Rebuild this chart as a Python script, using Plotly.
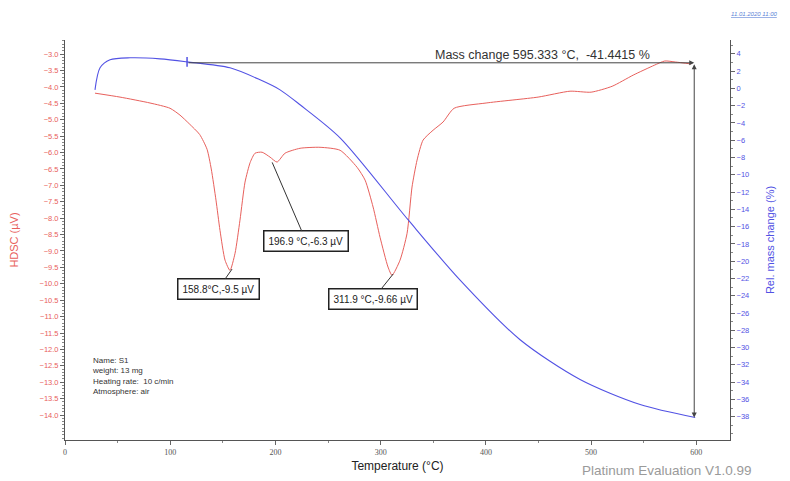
import plotly.graph_objects as go

# ---- data ----
dsc_temp = [28.5, 52.3, 80.8, 99.8, 109.3, 118, 128, 135, 139, 143.5, 147.3, 152.1, 156.8, 161.6,
            166.3, 171.1, 176, 180.6, 187.3, 194.9, 201.5, 209.1, 223.4, 242.4, 261.4, 277.6,
            285.2, 292.8, 299.4, 307, 310.8, 318.4, 325.1, 329.8, 334.6, 340.3, 349.8, 359.3,
            369.8, 400.2, 449.6, 480, 500, 520, 540, 560, 570, 580, 595]
dsc_val = [-4.19, -4.31, -4.49, -4.65, -4.86, -5.12, -5.45, -5.9, -6.5, -7.45, -8.37, -9.28, -9.59, -9.07,
           -8.06, -6.9, -6.3, -6.02, -5.99, -6.14, -6.29, -6.02, -5.87, -5.84, -5.93, -6.45,
           -6.84, -7.66, -8.58, -9.49, -9.74, -9.28, -8.46, -7.05, -6.23, -5.62, -5.32, -5.07,
           -4.65, -4.49, -4.31, -4.13, -4.16, -3.98, -3.64, -3.34, -3.21, -3.24, -3.30]

tg_temp = [28.5, 33.3, 42.8, 61.8, 90.3, 116, 156.8, 185.4, 204.4, 223.4, 261.4, 326, 375.5,
           432.5, 489.5, 546.6, 598.9]
tg_val = [-0.17, 2.38, 3.31, 3.54, 3.42, 3.07, 2.38, 0.99, -0.17, -1.9, -5.72, -15.2, -22.2,
          -29.1, -33.7, -36.6, -38.1]

peak_temp = [158.8, 196.9, 311.9]
peak_val = [-9.55, -6.3, -9.7]
peak_labels = ["158.8°C,-9.5 µV", "196.9 °C,-6.3 µV", "311.9 °C,-9.66 µV"]
peak_offsets = [(-14, 20), (34, 79), (-20, 25)]

mass_start_T = 116
mass_end_T = 598
mass_top = 2.96
mass_bottom = -38.1
mass_text = "Mass change 595.333 °C,  -41.4415 %"

info_lines = ["Name: S1", "weight: 13 mg", "Heating rate:  10 c/min", "Atmosphere: air"]

x_ticks = [0, 100, 200, 300, 400, 500, 600]
left_ticks = [-3.0 - 0.5 * i for i in range(23)]
right_ticks = [4 - 2 * i for i in range(22)]

RED = "#e8605c"
BLUE = "#5252e4"
FONT = "Liberation Sans, Arial, sans-serif"

fig = go.Figure()
fig.add_trace(go.Scatter(x=dsc_temp, y=dsc_val, mode="lines", line=dict(color=RED, width=1, shape="spline", smoothing=0.6),
                         yaxis="y", hoverinfo="skip", showlegend=False))
fig.add_trace(go.Scatter(x=tg_temp, y=tg_val, mode="lines", line=dict(color=BLUE, width=1.1, shape="spline", smoothing=0.8),
                         yaxis="y2", hoverinfo="skip", showlegend=False))
fig.add_trace(go.Scatter(x=[mass_start_T], y=[tg_val[tg_temp.index(mass_start_T)]], mode="markers",
                         marker=dict(symbol="line-ns", size=7, line=dict(color=BLUE, width=1.5)),
                         yaxis="y2", hoverinfo="skip", showlegend=False))

annotations = []
for t, v, lab, (ax, ay) in zip(peak_temp, peak_val, peak_labels, peak_offsets):
    annotations.append(dict(x=t, y=v, xref="x", yref="y", text=lab, showarrow=True, arrowhead=0,
                            arrowwidth=1, arrowcolor="#333", ax=ax, ay=ay,
                            font=dict(family=FONT, size=10, color="#222"),
                            bordercolor="#222", borderwidth=1.5, borderpad=4, bgcolor="white"))

# horizontal mass-change line
annotations.append(dict(x=mass_end_T, y=mass_top, xref="x", yref="y2", ax=mass_start_T, ay=mass_top,
                        axref="x", ayref="y2", showarrow=True, arrowhead=2, arrowsize=1, arrowwidth=1,
                        arrowcolor="#444", text=""))
# vertical mass-change line
annotations.append(dict(x=mass_end_T, y=mass_bottom, xref="x", yref="y2", ax=mass_end_T, ay=mass_top,
                        axref="x", ayref="y2", showarrow=True, arrowhead=2, startarrowhead=2,
                        arrowside="end+start", arrowsize=1, arrowwidth=1, arrowcolor="#444", text=""))
annotations.append(dict(x=0.718, y=1.0, xref="paper", yref="paper", xanchor="center", yanchor="middle",
                        text=mass_text, showarrow=False, font=dict(family=FONT, size=12.5, color="#333"),
                        yshift=-15))

annotations.append(dict(x=0.038, y=0.215, xref="paper", yref="paper", xanchor="left", yanchor="top",
                        align="left", text="<br>".join(info_lines), showarrow=False,
                        font=dict(family=FONT, size=8, color="#333")))
annotations.append(dict(x=0.774, y=-0.075, xref="paper", yref="paper", xanchor="left", yanchor="middle",
                        text="Platinum Evaluation V1.0.99", showarrow=False,
                        font=dict(family=FONT, size=13.5, color="#9a9a9a")))
annotations.append(dict(x=0.998, y=1.0, xref="paper", yref="paper", xanchor="left", yanchor="middle",
                        text="<u><i>11.01.2020 11:00</i></u>", showarrow=False, yshift=26,
                        font=dict(family=FONT, size=6, color="#5b7fd6")))

fig.update_layout(
    width=790, height=481,
    margin=dict(l=57, r=68, t=32, b=49),
    paper_bgcolor="white", plot_bgcolor="white",
    font=dict(family=FONT),
    annotations=annotations,
    xaxis=dict(range=[0, 632], tickvals=x_ticks, ticks="outside", ticklen=4, tickcolor="#666",
               automargin=False,
               showgrid=False, zeroline=False, showline=True, linecolor="#555", linewidth=1,
               tickfont=dict(family="Liberation Serif, serif", size=8, color="#555"),
               minor=dict(dtick=50, ticks="outside", ticklen=2, tickcolor="#888"),
               title=dict(text="Temperature (°C)", font=dict(family=FONT, size=12, color="#222"), standoff=6)),
    yaxis=dict(range=[-14.76, -2.57], tickvals=left_ticks, tickformat=".1f", ticks="outside", ticklen=4,
               automargin=False,
               tickcolor="#666", showgrid=False, zeroline=False, showline=True, linecolor="#555", linewidth=1,
               tickfont=dict(family=FONT, size=7.5, color=RED),
               minor=dict(dtick=0.1, ticks="outside", ticklen=2, tickcolor="#888"),
               title=dict(text="HDSC (µV)", font=dict(family=FONT, size=11, color=RED), standoff=18)),
    yaxis2=dict(range=[-40.7, 5.6], tickvals=right_ticks, overlaying="y", side="right", ticks="outside",
                automargin=False,
                ticklen=4, tickcolor="#666", showgrid=False, zeroline=False, showline=True,
                linecolor="#555", linewidth=1,
                tickfont=dict(family=FONT, size=7.5, color=BLUE),
                minor=dict(dtick=1, ticks="outside", ticklen=2, tickcolor="#888"),
                title=dict(text="Rel. mass change (%)", font=dict(family=FONT, size=11, color=BLUE), standoff=18)),
)

fig.write_html("out.html")
